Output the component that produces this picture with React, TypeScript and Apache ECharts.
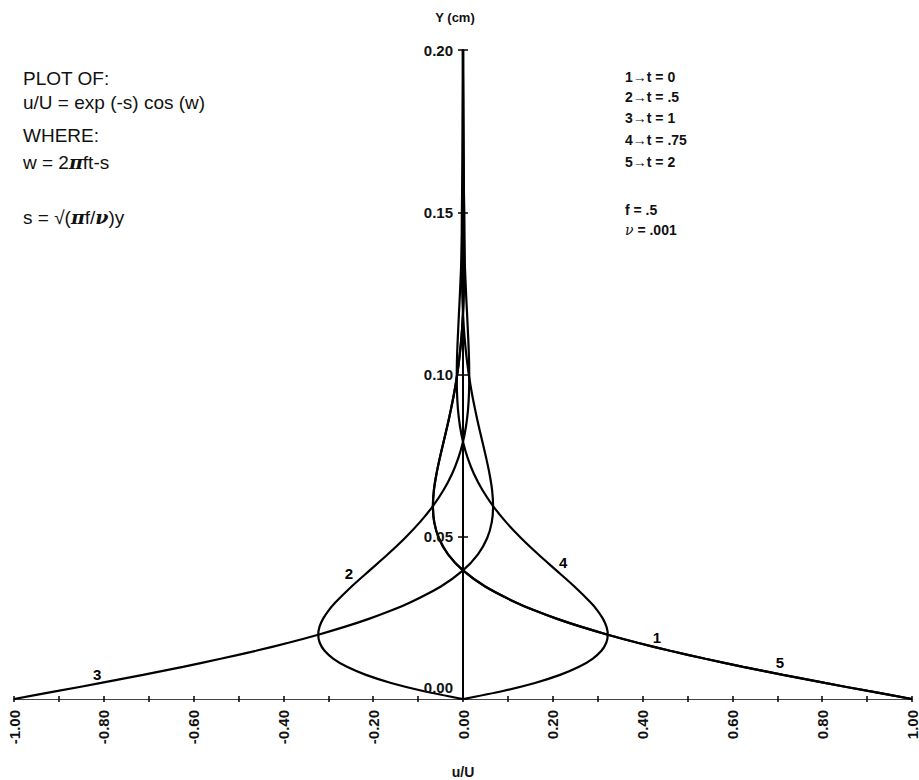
import React, { useEffect, useRef } from "react";
import * as echarts from "echarts";

// Y (cm) values at which the profiles were read
const yValues = [
  0, 0.00248, 0.00495, 0.00743, 0.00991, 0.01239, 0.01486, 0.01734, 0.01982, 0.02229,
  0.02477, 0.02725, 0.02973, 0.03468, 0.03963, 0.04459, 0.04954, 0.0545, 0.05945, 0.0644,
  0.06936, 0.07431, 0.07927, 0.08422, 0.08918, 0.09413, 0.09908, 0.10404, 0.10899, 0.11395,
  0.1189, 0.12386, 0.12881, 0.13376, 0.13872, 0.14367, 0.14863, 0.15358, 0.15853, 0.17836, 0.2,
];

// u/U for each labelled profile
const curve1U = [
  1.0, 0.9021, 0.8059, 0.7128, 0.6238, 0.5398, 0.4613, 0.3888, 0.3224, 0.2622,
  0.2082, 0.1601, 0.1178, 0.0494, 0.0, -0.0333, -0.0537, -0.0641, -0.067, -0.0648,
  -0.0591, -0.0516, -0.0432, -0.0348, -0.027, -0.0199, -0.0139, -0.009, -0.0051, -0.0021,
  0.0, 0.0014, 0.0023, 0.0028, 0.0029, 0.0028, 0.0026, 0.0022, 0.0019, 0.0006, 0.0,
];
const curve2U = [
  0.0, -0.0889, -0.1603, -0.2162, -0.2584, -0.2885, -0.3083, -0.3191, -0.3224, -0.3195,
  -0.3115, -0.2995, -0.2844, -0.2481, -0.2079, -0.1675, -0.1297, -0.0959, -0.067, -0.0433,
  -0.0245, -0.0103, 0.0, 0.0069, 0.0112, 0.0133, 0.0139, 0.0135, 0.0123, 0.0107,
  0.009, 0.0072, 0.0056, 0.0041, 0.0029, 0.0019, 0.0011, 0.0004, 0.0, -0.0006, 0.0,
];
const curve3U = [
  -1.0, -0.9021, -0.8059, -0.7128, -0.6238, -0.5398, -0.4613, -0.3888, -0.3224, -0.2622,
  -0.2082, -0.1601, -0.1178, -0.0494, 0.0, 0.0333, 0.0537, 0.0641, 0.067, 0.0648,
  0.0591, 0.0516, 0.0432, 0.0348, 0.027, 0.0199, 0.0139, 0.009, 0.0051, 0.0021,
  0.0, -0.0014, -0.0023, -0.0028, -0.0029, -0.0028, -0.0026, -0.0022, -0.0019, -0.0006, 0.0,
];
const curve4U = [
  0.0, 0.0889, 0.1603, 0.2162, 0.2584, 0.2885, 0.3083, 0.3191, 0.3224, 0.3195,
  0.3115, 0.2995, 0.2844, 0.2481, 0.2079, 0.1675, 0.1297, 0.0959, 0.067, 0.0433,
  0.0245, 0.0103, 0.0, -0.0069, -0.0112, -0.0133, -0.0139, -0.0135, -0.0123, -0.0107,
  -0.009, -0.0072, -0.0056, -0.0041, -0.0029, -0.0019, -0.0011, -0.0004, 0.0, 0.0006, 0.0,
];
const curve5U = [
  1.0, 0.9021, 0.8059, 0.7128, 0.6238, 0.5398, 0.4613, 0.3888, 0.3224, 0.2622,
  0.2082, 0.1601, 0.1178, 0.0494, 0.0, -0.0333, -0.0537, -0.0641, -0.067, -0.0648,
  -0.0591, -0.0516, -0.0432, -0.0348, -0.027, -0.0199, -0.0139, -0.009, -0.0051, -0.0021,
  0.0, 0.0014, 0.0023, 0.0028, 0.0029, 0.0028, 0.0026, 0.0022, 0.0019, 0.0006, 0.0,
];

const curveNames = ["1", "2", "3", "4", "5"];
// where each curve number is written (u/U, y)
const curveLabelU = [0.432, -0.254, -0.815, 0.223, 0.706];
const curveLabelY = [0.0191, 0.0388, 0.0077, 0.0422, 0.0114];

const legendLines = ["1→t = 0", "2→t = .5", "3→t = 1", "4→t = .75", "5→t = 2"];
const paramLines = ["f = .5", "{nu|ν} = .001"];
const noteLines = ["PLOT OF:", "u/U = exp (-s) cos (w)", "WHERE:", "w = 2{pi|π}ft-s", "s = √({pi|π}f/{pi|ν})y"];

const SANS = '"Liberation Sans", Arial, Helvetica, sans-serif';

export default function App() {
  const ref = useRef<HTMLDivElement>(null);
  useEffect(() => {
    if (!ref.current) return;
    const chart = echarts.init(ref.current, null, { renderer: "svg" });
    const curves = [curve1U, curve2U, curve3U, curve4U, curve5U];
    const fmt = (v: number) => (Math.abs(v) < 1e-9 ? 0 : v).toFixed(2);
    const labelStyle = { fontFamily: SANS, fontWeight: "bold" as const, fontSize: 15, color: "#111" };
    const series = curves.map((u, ci) => ({
      type: "line",
      name: curveNames[ci],
      data: yValues.map((y, i) => [u[i], y]),
      xAxisIndex: 0,
      yAxisIndex: 0,
      symbol: "none",
      smooth: 0.3,
      lineStyle: { color: "#000", width: 2.2 },
      z: 3,
      markPoint: {
        symbol: "circle",
        symbolSize: 0,
        silent: true,
        data: [
          {
            coord: [curveLabelU[ci], curveLabelY[ci]],
            label: {
              show: true,
              position: "inside",
              formatter: curveNames[ci],
              fontFamily: SANS,
              fontWeight: "bold",
              fontSize: 15,
              color: "#000",
            },
          },
        ],
      },
    }));

    const noteY = [78, 102, 135, 162, 217];
    const legendY = [77, 97, 118, 140, 162];
    const paramY = [210, 230];
    const graphics: any[] = [];
    noteLines.forEach((t, i) => {
      graphics.push({
        type: "text",
        x: 23,
        y: noteY[i],
        style: {
          text: t,
          fill: "#111",
          font: `19px ${SANS}`,
          verticalAlign: "middle",
          rich: {
            pi: { fontFamily: '"DejaVu Serif", serif', fontStyle: "italic", fontWeight: "bold", fontSize: 19, fill: "#111" },
          },
        },
      });
    });
    legendLines.forEach((t, i) => {
      graphics.push({
        type: "text",
        x: 625,
        y: legendY[i],
        style: { text: t, fill: "#111", font: `bold 14px ${SANS}`, verticalAlign: "middle" },
      });
    });
    paramLines.forEach((t, i) => {
      graphics.push({
        type: "text",
        x: 625,
        y: paramY[i],
        style: {
          text: t,
          fill: "#111",
          font: `bold 14px ${SANS}`,
          verticalAlign: "middle",
          rich: { nu: { fontFamily: '"DejaVu Serif", serif', fontStyle: "italic", fontSize: 14, fill: "#111" } },
        },
      });
    });

    const baseX = {
      type: "value",
      position: "bottom",
      min: -1,
      max: 1,
      interval: 0.2,
      splitLine: { show: false },
    };
    const baseY = {
      type: "value",
      position: "left",
      min: 0,
      max: 0.2,
      interval: 0.05,
      splitLine: { show: false },
    };
    const tickLine = { color: "#000", width: 1.5 };

    chart.setOption({
      animation: false,
      backgroundColor: "#fff",
      grid: [
        { left: 14, right: 7, top: 50, bottom: 81, containLabel: false, outerBoundsMode: "none" },
        // thin grid whose left edge is at u/U = 0, carrying the Y axis
        { left: 463, width: 1, top: 50, bottom: 81, containLabel: false, outerBoundsMode: "none" },
      ],
      xAxis: [
        {
          ...baseX,
          gridIndex: 0,
          name: "u/U",
          nameLocation: "middle",
          nameGap: 66,
          nameTextStyle: { fontFamily: SANS, fontWeight: "bold", fontSize: 14, color: "#111" },
          axisLine: { onZero: false, lineStyle: { color: "#444", width: 1.2 } },
          axisTick: { show: true, length: 3, lineStyle: tickLine },
          minorTick: { show: true, splitNumber: 2, length: 3, lineStyle: tickLine },
          axisLabel: { rotate: 90, margin: 11, formatter: fmt, ...labelStyle },
        },
        {
          ...baseX,
          gridIndex: 0,
          axisLine: { show: false, onZero: false },
          axisTick: { show: true, inside: true, length: 3, lineStyle: tickLine },
          minorTick: { show: true, splitNumber: 2, length: 3, lineStyle: tickLine },
          axisLabel: { show: false },
        },
        {
          ...baseX,
          gridIndex: 1,
          show: false,
        },
      ],
      yAxis: [
        {
          ...baseY,
          gridIndex: 0,
          show: false,
        },
        {
          ...baseY,
          gridIndex: 1,
          name: "Y (cm)",
          nameLocation: "end",
          nameGap: 26,
          nameTextStyle: { fontFamily: SANS, fontWeight: "bold", fontSize: 13, color: "#111", padding: [0, 16, 0, 0] },
          axisLine: { onZero: false, lineStyle: { color: "#000", width: 2 } },
          axisTick: { show: true, length: 5, lineStyle: tickLine },
          axisLabel: {
            margin: 10,
            ...labelStyle,
            formatter: (v: number) => (Math.abs(v) < 1e-9 ? "{z|0.00}" : fmt(v)),
            rich: { z: { ...labelStyle, padding: [0, 0, 24, 0] } },
          },
          z: 4,
        },
        {
          ...baseY,
          gridIndex: 1,
          axisLine: { show: false, onZero: false },
          axisTick: { show: true, inside: true, length: 5, lineStyle: tickLine },
          axisLabel: { show: false },
        },
      ],
      series,
      graphic: graphics,
    });
    return () => chart.dispose();
  }, []);
  return (
    <div
      ref={ref}
      style={{ position: "absolute", left: 0, top: 0, width: 919, height: 780, background: "#fff" }}
    />
  );
}
